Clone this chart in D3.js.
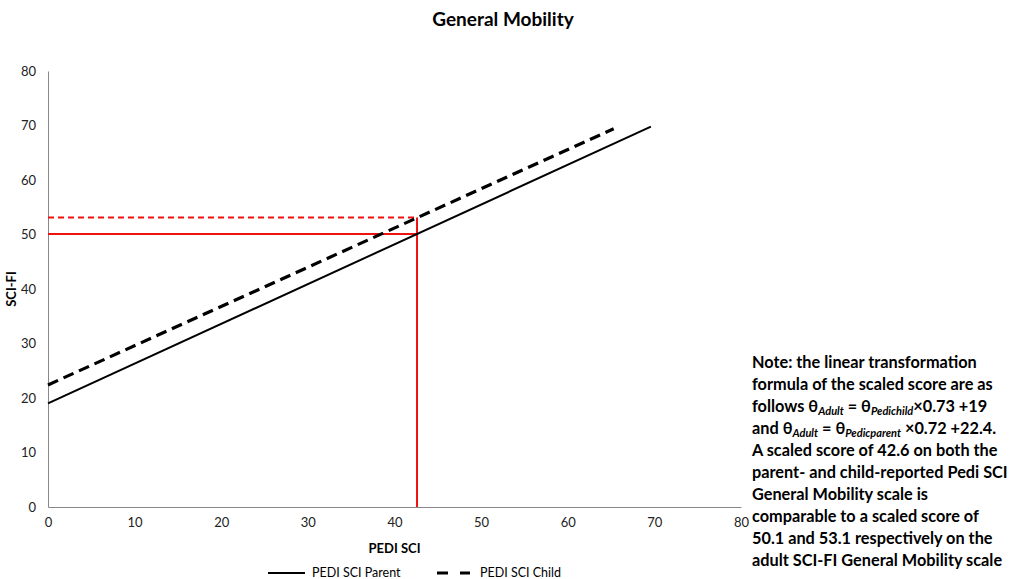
<!DOCTYPE html>
<html lang="en">
<head>
<meta charset="utf-8">
<title>General Mobility</title>
<script src="https://cdn.jsdelivr.net/npm/d3@7"></script>
<style>
  body { margin: 0; background: #fff; }
  svg text { font-family: Lato, "Open Sans", sans-serif; }
</style>
</head>
<body>
<div id="chart"></div>
<script>
// values
var parentX = [0, 69.6];
var parentY = [19, 69.8];
var childX = [0, 65.3];
var childY = [22.4, 69.4];
var markX = [42.6];
var markParent = [50.1];
var markChild = [53.1];
var xTicks = [0, 10, 20, 30, 40, 50, 60, 70, 80];
var yTicks = [0, 10, 20, 30, 40, 50, 60, 70, 80];
var seriesNames = ["PEDI SCI Parent", "PEDI SCI Child"];

var width = 1015, height = 579;
var margin = { top: 71, right: 274, bottom: 72, left: 48 };

var svg = d3.select("#chart").append("svg")
    .attr("width", width)
    .attr("height", height);

var x = d3.scaleLinear().domain([0, 80]).range([margin.left, width - margin.right]);
var y = d3.scaleLinear().domain([0, 80]).range([height - margin.bottom, margin.top]);

// title
svg.append("text")
    .attr("x", 503).attr("y", 26)
    .attr("text-anchor", "middle")
    .style("font-size", "19px").style("font-weight", "bold")
    .text("General Mobility");

// axes, no tick marks
var xAxis = d3.axisBottom(x).tickValues(xTicks).tickSize(0).tickPadding(11);
var yAxis = d3.axisLeft(y).tickValues(yTicks).tickSize(0).tickPadding(12);

var gx = svg.append("g")
    .attr("transform", "translate(0," + y(0) + ")")
    .call(xAxis);
var gy = svg.append("g")
    .attr("transform", "translate(" + x(0) + ",0)")
    .call(yAxis);
[gx, gy].forEach(function(g) {
    g.select(".domain").attr("stroke", "#888");
    g.selectAll("text").style("font-size", "13px").attr("fill", "#222")
        .style("font-family", "Lato, sans-serif");
});

svg.append("text")
    .attr("x", x(40)).attr("y", 553)
    .attr("text-anchor", "middle")
    .style("font-size", "13px").style("font-weight", "bold")
    .text("PEDI SCI");
svg.append("text")
    .attr("transform", "translate(16," + y(40) + ") rotate(-90)")
    .attr("text-anchor", "middle")
    .style("font-size", "13px").style("font-weight", "bold")
    .text("SCI-FI");

// red reference lines
svg.append("line")
    .attr("x1", x(0)).attr("x2", x(markX[0]))
    .attr("y1", y(markParent[0])).attr("y2", y(markParent[0]))
    .attr("stroke", "#f01010").attr("stroke-width", 2);
svg.append("line")
    .attr("x1", x(0)).attr("x2", x(markX[0]))
    .attr("y1", y(markChild[0])).attr("y2", y(markChild[0]))
    .attr("stroke", "#f01010").attr("stroke-width", 2)
    .attr("stroke-dasharray", "6,4");
svg.append("line")
    .attr("x1", x(markX[0])).attr("x2", x(markX[0]))
    .attr("y1", y(0)).attr("y2", y(markChild[0]))
    .attr("stroke", "#f01010").attr("stroke-width", 2);

// series lines
var line = d3.line()
    .x(function(d) { return x(d[0]); })
    .y(function(d) { return y(d[1]); });

svg.append("path")
    .datum(d3.zip(parentX, parentY))
    .attr("d", line)
    .attr("fill", "none").attr("stroke", "#000").attr("stroke-width", 2);
svg.append("path")
    .datum(d3.zip(childX, childY))
    .attr("d", line)
    .attr("fill", "none").attr("stroke", "#000").attr("stroke-width", 3.2)
    .attr("stroke-dasharray", "11,6");

// legend
var legend = svg.append("g").attr("transform", "translate(268,573)");
var items = legend.selectAll("g").data(seriesNames).enter().append("g")
    .attr("transform", function(d, i) { return "translate(" + (i * 165) + ",0)"; });
items.append("line")
    .attr("x1", 0).attr("x2", 37).attr("y1", 0).attr("y2", 0)
    .attr("stroke", "#000")
    .attr("stroke-width", function(d, i) { return i ? 3.2 : 2; })
    .attr("stroke-dasharray", function(d, i) { return i ? "11,12" : null; })
    .attr("stroke-dashoffset", function(d, i) { return i ? -4 : 0; });
items.append("text")
    .attr("x", function(d, i) { return i ? 47 : 44; }).attr("y", 4)
    .style("font-size", "12.5px")
    .text(function(d) { return d; });

// note
var note = svg.append("text")
    .attr("x", 752).attr("y", 368)
    .style("font-size", "16.3px").style("font-weight", "bold");
var noteLines = [
    [["Note: the linear transformation"]],
    [["formula of the scaled score are as"]],
    [["follows θ"], ["Adult", 1], [" = θ"], ["Pedichild", 1], ["×0.73 +19"]],
    [["and θ"], ["Adult", 1], [" = θ"], ["Pedicparent", 1], [" ×0.72 +22.4."]],
    [["A scaled score of 42.6 on both the"]],
    [["parent- and child-reported Pedi SCI"]],
    [["General Mobility scale is"]],
    [["comparable to a scaled score of"]],
    [["50.1 and 53.1 respectively on the"]],
    [["adult SCI-FI General Mobility scale"]]
];
noteLines.forEach(function(parts, i) {
    parts.forEach(function(p, j) {
        var t = note.append("tspan").text(p[0]);
        if (j === 0) t.attr("x", 752).attr("y", 368 + i * 22);
        if (p[1]) {
            t.style("font-style", "italic").style("font-size", "11px")
                .attr("dy", 3);
        } else if (j > 0 && parts[j - 1][1]) {
            t.attr("dy", -3);
        }
    });
});
</script>
</body>
</html>
